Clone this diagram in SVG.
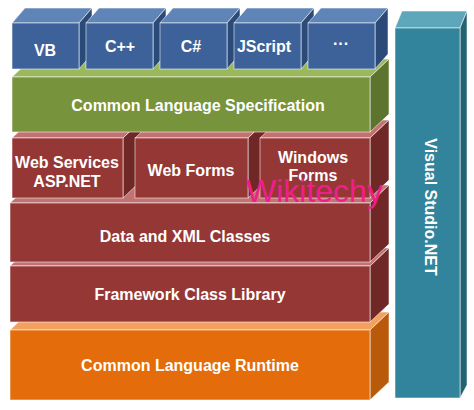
<svg xmlns="http://www.w3.org/2000/svg" width="474" height="410" viewBox="0 0 474 410">
<style>
  polygon, rect { stroke: rgba(255,255,255,0.55); stroke-width: 1; }
  .bf { fill: #3c6299; } .bt { fill: #5f84b8; } .bs { fill: #2b4a77; }
  .gf { fill: #77933c; } .gt { fill: #9bb95a; } .gs { fill: #5c742e; }
  .rf { fill: #953735; } .rt { fill: #c27371; } .rs { fill: #702826; }
  .of { fill: #e46c0a; } .ot { fill: #f2a25e; } .os { fill: #b95a0b; }
  .tf { fill: #31849b; } .tt { fill: #5ea6ba; } .ts { fill: #226272; }
  .lbl { font-family: "Liberation Sans", Arial, sans-serif; font-weight: bold; font-size: 16px; fill: #ffffff; text-anchor: middle; }
  .wm { font-family: "Liberation Sans", Arial, sans-serif; font-size: 32px; fill: #f01e8c; }
</style>
<rect x="0" y="0" width="474" height="410" fill="#ffffff" stroke="none"/>

<g id="visual-studio">
  <polygon class="tt" points="395,28 402,11 467,11 460,28"/>
  <polygon class="ts" points="460,28 467,11 467,385 460,398"/>
  <rect class="tf" x="395" y="28" width="65" height="370"/>
  <text class="lbl" transform="translate(425,207) rotate(90)">Visual Studio.NET</text>
</g>

<g id="clr">
  <polygon class="ot" points="10,330 29,312 389,312 370,330"/>
  <polygon class="os" points="370,330 389,312 389,382 370,400"/>
  <rect class="of" x="10" y="330" width="360" height="70"/>
  <text class="lbl" x="190" y="371">Common Language Runtime</text>
</g>

<g id="framework-class-library">
  <polygon class="rt" points="10,266 29,248 389,248 370,266"/>
  <polygon class="rs" points="370,266 389,248 389,304 370,322"/>
  <rect class="rf" x="10" y="266" width="360" height="56"/>
  <text class="lbl" x="190" y="300">Framework Class Library</text>
</g>

<g id="data-xml-classes">
  <polygon class="rt" points="10,203 29,185 389,185 370,203"/>
  <polygon class="rs" points="370,203 389,185 389,244 370,262"/>
  <rect class="rf" x="10" y="203" width="360" height="59"/>
  <text class="lbl" x="185" y="242">Data and XML Classes</text>
</g>

<g id="web-services">
  <polygon class="rt" points="12,138 31,120 142,120 123,138"/>
  <polygon class="rs" points="123,138 142,120 142,180 123,198"/>
  <rect class="rf" x="12" y="138" width="111" height="60"/>
  <text class="lbl" x="67" y="168">Web Services</text>
  <text class="lbl" x="67" y="187">ASP.NET</text>
</g>

<g id="web-forms">
  <polygon class="rt" points="135,138 154,120 267,120 248,138"/>
  <polygon class="rs" points="248,138 267,120 267,180 248,198"/>
  <rect class="rf" x="135" y="138" width="113" height="60"/>
  <text class="lbl" x="191" y="176">Web Forms</text>
</g>

<g id="windows-forms">
  <polygon class="rt" points="260,138 279,120 389,120 370,138"/>
  <polygon class="rs" points="370,138 389,120 389,180 370,198"/>
  <rect class="rf" x="260" y="138" width="110" height="60"/>
  <text class="lbl" x="313" y="163">Windows</text>
  <text class="lbl" x="313" y="181">Forms</text>
</g>

<g id="cls">
  <polygon class="gt" points="12,77 31,59 389,59 370,77"/>
  <polygon class="gs" points="370,77 389,59 389,114 370,132"/>
  <rect class="gf" x="12" y="77" width="358" height="55"/>
  <text class="lbl" x="198" y="111">Common Language Specification</text>
</g>

<g id="vb">
  <polygon class="bt" points="12,23 25,8 92,8 79,23"/>
  <polygon class="bs" points="79,23 92,8 92,54 79,69"/>
  <rect class="bf" x="12" y="23" width="67" height="46"/>
  <text class="lbl" x="45" y="56">VB</text>
</g>
<g id="cpp">
  <polygon class="bt" points="86,23 99,8 166,8 153,23"/>
  <polygon class="bs" points="153,23 166,8 166,54 153,69"/>
  <rect class="bf" x="86" y="23" width="67" height="46"/>
  <text class="lbl" x="120" y="52">C++</text>
</g>
<g id="csharp">
  <polygon class="bt" points="160,23 173,8 240,8 227,23"/>
  <polygon class="bs" points="227,23 240,8 240,54 227,69"/>
  <rect class="bf" x="160" y="23" width="67" height="46"/>
  <text class="lbl" x="191" y="52">C#</text>
</g>
<g id="jscript">
  <polygon class="bt" points="234,23 247,8 314,8 301,23"/>
  <polygon class="bs" points="301,23 314,8 314,54 301,69"/>
  <rect class="bf" x="234" y="23" width="67" height="46"/>
  <text class="lbl" x="264" y="52">JScript</text>
</g>
<g id="more">
  <polygon class="bt" points="308,23 321,8 388,8 375,23"/>
  <polygon class="bs" points="375,23 388,8 388,54 375,69"/>
  <rect class="bf" x="308" y="23" width="67" height="46"/>
  <text class="lbl" x="341" y="49">···</text>
</g>

<g id="connectors"></g>

<text class="wm" x="246" y="202">Wikitechy</text>
</svg>
